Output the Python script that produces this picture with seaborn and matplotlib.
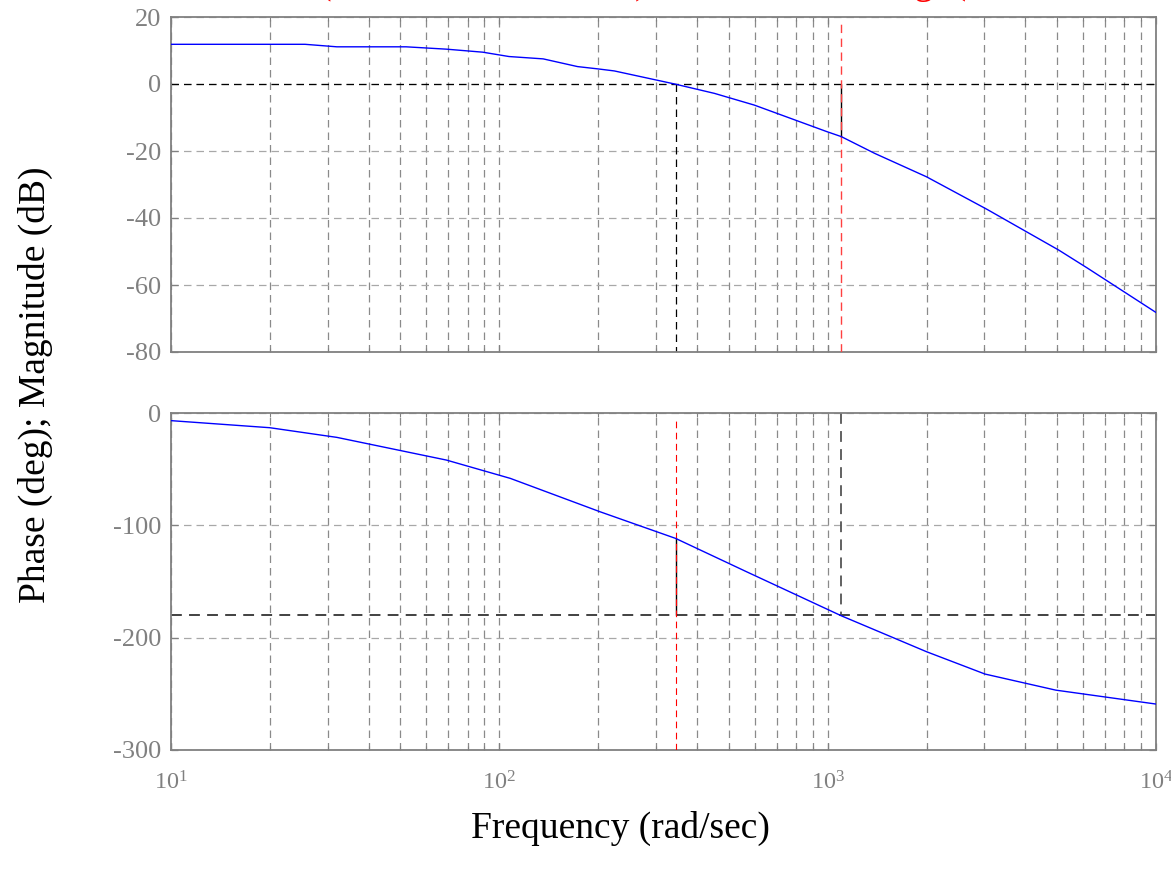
import numpy as np
import pandas as pd
import matplotlib
matplotlib.use("Agg")
import matplotlib.pyplot as plt
from matplotlib.ticker import LogLocator, NullFormatter, LogFormatterSciNotation, FixedLocator
import seaborn as sns

# Frequency response samples (rad/sec)
mag_freq = [10, 25.6, 32, 52, 69, 89, 107, 136, 173, 200, 224, 342, 452, 598, 993, 1100,
            1390, 2000, 3055, 5060, 6170, 10000]
mag_db = [11.85, 11.85, 11.1, 11.1, 10.4, 9.5, 8.2, 7.5, 5.2, 4.5, 3.9, 0.0, -2.8, -6.3,
          -14.2, -15.7, -20.7, -27.7, -37.4, -49.6, -54.9, -68.2]

phase_freq = [10, 20, 32, 69, 108, 203, 344, 566, 1100, 2000, 3015, 4950, 10000]
phase_deg = [-6.8, -13.1, -21.7, -41.9, -58.2, -88.0, -111.6, -141.3, -180.5, -212.5,
             -232.4, -246.7, -259.1]

# Stability margins
gain_margin_db = 15.7
phase_margin_deg = 68.4
w_gain_cross = 344      # magnitude crosses 0 dB
w_phase_cross = 1100    # phase crosses -180 deg

mag_ticks = [20, 0, -20, -40, -60, -80]
phase_ticks = [0, -100, -200, -300]

sns.set_theme(style="white")
plt.rcParams["font.family"] = ["Liberation Serif", "DejaVu Serif"]
plt.rcParams["mathtext.fontset"] = "stix"
plt.rcParams["axes.unicode_minus"] = False

W, H = 1171, 869
fig = plt.figure(figsize=(W / 100, H / 100), dpi=100)
left, right = 171 / W, 1156 / W
ax1 = fig.add_axes([left, 1 - 352 / H, right - left, (352 - 17) / H])
ax2 = fig.add_axes([left, 1 - 750 / H, right - left, (750 - 413) / H])

mag_df = pd.DataFrame({"w": mag_freq, "db": mag_db})
ph_df = pd.DataFrame({"w": phase_freq, "deg": phase_deg})

gray = "#808080"
dash = (0, (6, 4))
grid_kw = dict(linestyle=dash, linewidth=0.9)

for ax, ticks in ((ax1, mag_ticks), (ax2, phase_ticks)):
    ax.set_xscale("log")
    ax.set_xlim(10, 1e4)
    ax.set_ylim(min(ticks), max(ticks))
    ax.yaxis.set_major_locator(FixedLocator(ticks))
    ax.xaxis.set_major_locator(LogLocator(base=10, numticks=10))
    ax.xaxis.set_minor_locator(LogLocator(base=10, subs=np.arange(2, 10), numticks=20))
    ax.xaxis.set_minor_formatter(NullFormatter())
    ax.grid(True, which="both", axis="x", color="#8a8a8a", **grid_kw)
    ax.grid(True, which="major", axis="y", color="#a8a8a8", **grid_kw)
    ax.set_axisbelow(True)
    for sp in ax.spines.values():
        sp.set_color(gray)
        sp.set_linewidth(1.3)
    ax.tick_params(axis="both", which="both", direction="in", colors=gray,
                   top=True, right=True, bottom=True, left=True)
    ax.tick_params(axis="both", which="major", length=5, width=0.9)
    ax.tick_params(axis="x", which="minor", length=3, width=0.8)
    ax.tick_params(axis="y", labelsize=19, pad=7, labelcolor=gray)
    ax.tick_params(axis="x", labelsize=17.5, pad=15, labelcolor=gray)

ax1.xaxis.set_major_formatter(NullFormatter())
ax2.xaxis.set_major_formatter(LogFormatterSciNotation())

# Magnitude plot with gain-margin markers
ax1.axhline(0, color="black", linestyle=dash, linewidth=0.9, zorder=2)
ax1.plot([w_gain_cross, w_gain_cross], [0, min(mag_ticks)], color="black",
         linestyle=dash, linewidth=0.9, zorder=2)
ax1.plot([w_phase_cross, w_phase_cross], [0, -gain_margin_db], color="black",
         linewidth=1.0, zorder=3)
ax1.plot([w_phase_cross, w_phase_cross], [min(mag_ticks), 18.5], color="#ff4040",
         linestyle=dash, linewidth=1.0, zorder=4)
sns.lineplot(data=mag_df, x="w", y="db", ax=ax1, color="blue", linewidth=1.0,
             sort=False, estimator=None, zorder=5)

# Phase plot with phase-margin markers
ax2.axhline(-180, color="#333333", linestyle=dash, linewidth=1.3, zorder=2)
ax2.plot([w_phase_cross, w_phase_cross], [0, -180], color="#555555",
         linestyle=dash, linewidth=1.3, zorder=2)
ax2.plot([w_gain_cross, w_gain_cross], [-180, -180 + phase_margin_deg], color="black",
         linewidth=1.0, zorder=3)
ax2.plot([w_gain_cross, w_gain_cross], [min(phase_ticks), -5], color="red",
         linestyle=dash, linewidth=0.8, zorder=4)
sns.lineplot(data=ph_df, x="w", y="deg", ax=ax2, color="blue", linewidth=1.0,
             sort=False, estimator=None, zorder=5)
for ax in (ax1, ax2):
    ax.set_xlabel("")
    ax.set_ylabel("")

# Margin summary title (sits above the top edge, as in the saved figure)
w_pc_text = f"{w_phase_cross:.1e}".replace("e+0", "e+00")
title = (f"Gm = {gain_margin_db:.1f} dB (at {w_pc_text} rad/sec) ,    "
         f"Pm = {phase_margin_deg:.1f} deg  (at {w_gain_cross:d} rad/sec)")
fig.text(640 / W, 1 + 7 / H, title, color="red", fontsize=28, ha="center", va="baseline")

fig.text(35 / W, 1 - 385 / H, "Phase (deg); Magnitude (dB)", rotation=90,
         fontsize=27, ha="center", va="center", color="black")
fig.text(620 / W, 1 - 828 / H, "Frequency (rad/sec)", fontsize=27,
         ha="center", va="center", color="black")

fig.savefig("out.png", dpi=100)
